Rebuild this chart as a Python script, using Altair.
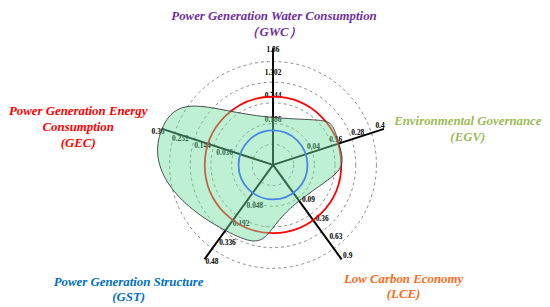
import altair as alt
import pandas as pd

# ---------------- data ----------------
axes = ["GWC", "EGV", "LCE", "GST", "GEC"]
axis_max = [1.86, 0.4, 0.9, 0.48, 0.36]
values = [0.205, 0.156, 0.065, 0.26, 0.36]
tick_levels = [0.1, 0.4, 0.7, 1.0]
tick_labels = {
    "GWC": ["0.186", "0.744", "1.302", "1.86"],
    "EGV": ["0.04", "0.16", "0.28", "0.4"],
    "LCE": ["0.09", "0.36", "0.63", "0.9"],
    "GST": ["0.048", "0.192", "0.336", "0.48"],
    "GEC": ["0.036", "0.144", "0.252", "0.36"],
}
grid_levels = [-0.2, 0.1, 0.4, 0.7, 1.0]
ref_names = ["red", "blue"]
ref_levels = [0.49, 0.0]

titles = {
    "GWC": "Power Generation Water Consumption\n（GWC）",
    "EGV": "Environmental Governance\n(EGV)",
    "LCE": "Low Carbon Economy\n(LCE)",
    "GST": "Power Generation Structure\n(GST)",
    "GEC": "Power Generation Energy\nConsumption\n(GEC)",
}

# ---------------- layout constants ----------------
R = 118.0          # outer radius in px
LMIN = -0.5        # normalized level at centre
W, H = 530, 285
xs = alt.Scale(domain=[-263, 267], nice=False, zero=False)
ys = alt.Scale(domain=[-133, 152], nice=False, zero=False)
rexpr = f"{R}*(datum.lvl-({LMIN}))/(1-({LMIN}))"

shape_df = pd.DataFrame({"axis": axes, "max": axis_max, "value": values,
                         "idx": list(range(len(axes)))})
axis_df = pd.DataFrame({"axis": axes, "idx": list(range(len(axes)))})
grid_df = pd.DataFrame({"lvl": grid_levels})
ref_df = pd.DataFrame({"name": ref_names, "lvl": ref_levels})

X = alt.X("x:Q", scale=xs, axis=None)
Y = alt.Y("y:Q", scale=ys, axis=None)

def polar(ch):
    return ch.transform_calculate(
        ang="(90-72*datum.idx)*PI/180"
    ).transform_calculate(
        r=rexpr
    ).transform_calculate(
        x="datum.r*cos(datum.ang)", y="datum.r*sin(datum.ang)"
    )

def circle_layer(df):
    return alt.Chart(df).transform_calculate(r=rexpr).transform_calculate(
        s="PI*datum.r*datum.r", x="0", y="0")

# grid circles
grid = circle_layer(grid_df).mark_point(
    shape="circle", filled=False, stroke="#8a8a8a", strokeWidth=1,
    strokeDash=[3, 3], opacity=1).encode(
    x=X, y=Y, size=alt.Size("s:Q", scale=None, legend=None))

# axis lines
axis_lines = polar(alt.Chart(axis_df).transform_calculate(lvl="1.0")).transform_calculate(
    x0="0", y0="0"
).mark_rule(color="black", strokeWidth=2).encode(
    x=alt.X("x0:Q", scale=xs, axis=None), y=alt.Y("y0:Q", scale=ys, axis=None),
    x2="x:Q", y2="y:Q")

# tick labels
label_style = {
    "GWC": dict(align="center", dx=0, dy=1.5),
    "EGV": dict(align="center", dx=-4, dy=-3),
    "LCE": dict(align="left", dx=1.5, dy=-3),
    "GST": dict(align="left", dx=1, dy=3),
    "GEC": dict(align="center", dx=-4, dy=3),
}
label_layers = []
for i, a in enumerate(axes):
    df = pd.DataFrame({"lvl": tick_levels, "label": tick_labels[a]})
    df["idx"] = i
    st = label_style[a]
    label_layers.append(
        polar(alt.Chart(df)).mark_text(
            font="Liberation Serif", fontWeight="bold", fontSize=7.5, color="black",
            baseline="middle", **st
        ).encode(x=X, y=Y, text="label:N"))

# reference circles
ref_color = alt.Color("name:N", scale=alt.Scale(domain=ref_names, range=["#ff0000", "#4a86e8"]),
                      legend=None)
red = circle_layer(ref_df).transform_filter("datum.name=='red'").mark_point(
    shape="circle", filled=False, strokeWidth=1.8, opacity=1).encode(
    x=X, y=Y, size=alt.Size("s:Q", scale=None, legend=None), stroke=ref_color)
blue = circle_layer(ref_df).transform_filter("datum.name=='blue'").mark_point(
    shape="circle", filled=False, strokeWidth=1.8, opacity=1).encode(
    x=X, y=Y, size=alt.Size("s:Q", scale=None, legend=None), stroke=ref_color)

# data shape
shape = polar(alt.Chart(shape_df).transform_calculate(lvl="datum.value/datum.max")).mark_line(
    interpolate="cardinal-closed", tension=-1.1, fill="#6ee0a0", fillOpacity=0.45,
    stroke="#3a3a3a", strokeWidth=0.9
).encode(x=X, y=Y, order=alt.Order("idx:Q"))

# axis titles (view pixel positions)
title_pos = {
    "GWC": (264, -4.5, "#7030a0"),
    "EGV": (460, 102, "#9bbb59"),
    "LCE": (395, 261, "#fa6b1a"),
    "GST": (117, 264, "#0070c0"),
    "GEC": (66, 92, "#ff0000"),
}
title_layers = []
for a in axes:
    px, py, col = title_pos[a]
    title_layers.append(
        alt.Chart(pd.DataFrame({"t": [titles[a]]})).mark_text(
            font="Liberation Serif", fontWeight="bold", fontStyle="italic", fontSize=13,
            color=col, align="center", baseline="top", lineBreak="\n", lineHeight=16
        ).encode(x=alt.value(px), y=alt.value(py), text="t:N"))

chart = alt.layer(grid, axis_lines, *label_layers, red, shape, blue, *title_layers).properties(
    width=W, height=H, padding=5, autosize=alt.AutoSizeParams(type="none")
).configure_view(stroke=None)

chart.save("out.html", embed_options={"renderer": "svg", "actions": False})
